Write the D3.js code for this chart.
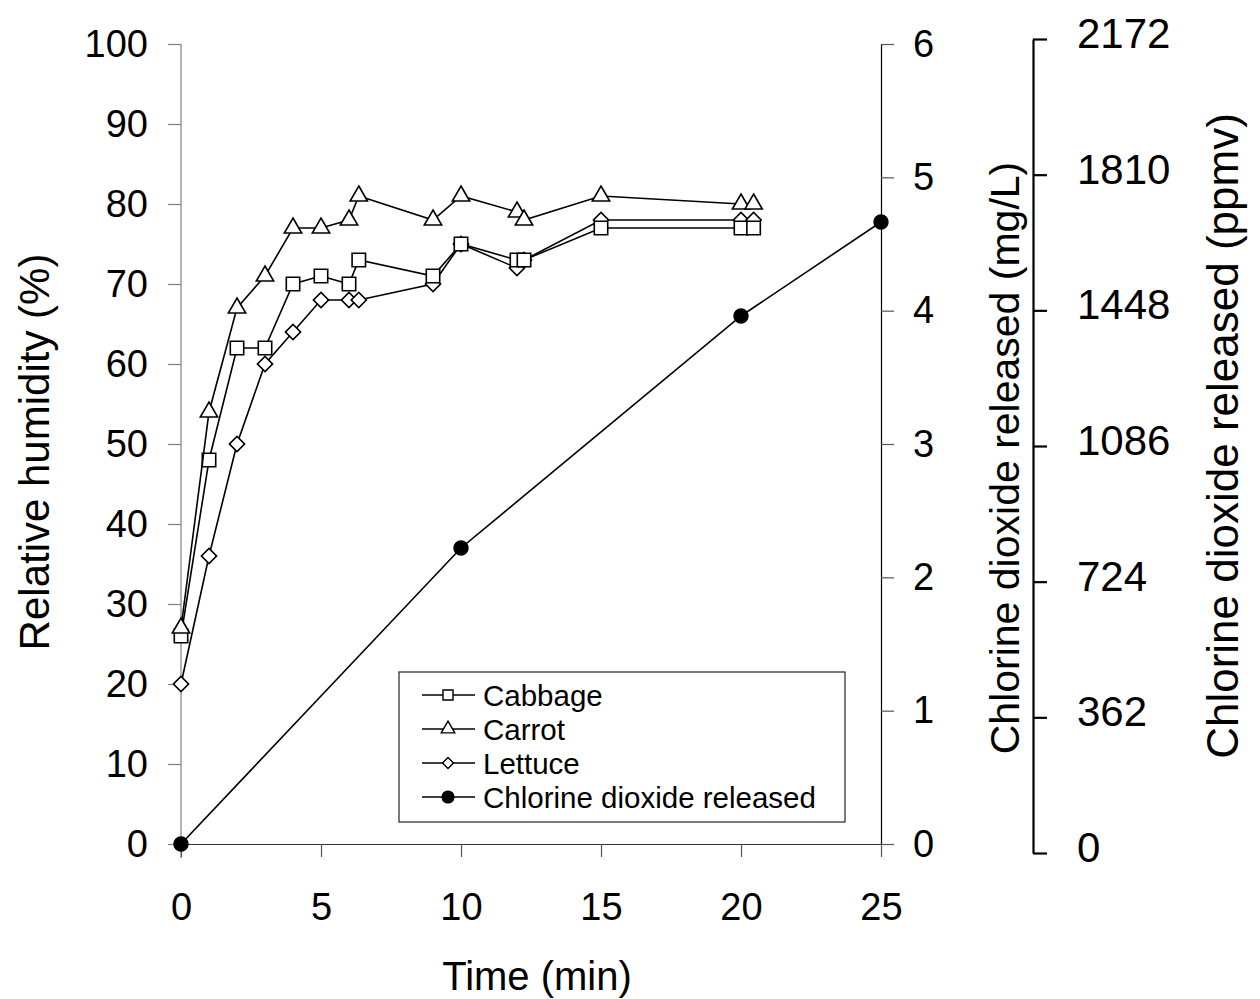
<!DOCTYPE html>
<html>
<head>
<meta charset="utf-8">
<script src="https://cdn.jsdelivr.net/npm/d3@7"></script>
<style>
  body { margin: 0; background: #fff; }
  svg { display: block; font-family: Arial, "Liberation Sans", sans-serif; }
</style>
</head>
<body>
<svg id="chart" width="1260" height="999"></svg>
<script>
// ---- Data ----
const timeMin = [0, 1, 2, 3, 4, 5, 6, 6.35, 9, 10, 12, 12.25, 15, 20, 20.45];
const cabbageRH = [26, 48, 62, 62, 70, 71, 70, 73, 71, 75, 73, 73, 77, 77, 77];
const carrotRH  = [27, 54, 67, 71, 77, 77, 78, 81, 78, 81, 79, 78, 81, 80, 80];
const lettuceRH = [20, 36, 50, 60, 64, 68, 68, 68, 70, 75, 72, 73, 78, 78, 78];
const clo2Time = [0, 10, 20, 25];
const clo2MgL  = [0, 2.22, 3.96, 4.665];

const xTicks = [0, 5, 10, 15, 20, 25];
const rhTicks = [0, 10, 20, 30, 40, 50, 60, 70, 80, 90, 100];
const mgTicks = [0, 1, 2, 3, 4, 5, 6];
const ppmTicks = [0, 362, 724, 1086, 1448, 1810, 2172];

const seriesNames = ["Cabbage", "Carrot", "Lettuce", "Chlorine dioxide released"];

// ---- Layout ----
const svg = d3.select("#chart");
const x = d3.scaleLinear().domain([0, 25]).range([181, 881]);
const yRH = d3.scaleLinear().domain([0, 100]).range([844, 44]);
const yMg = d3.scaleLinear().domain([0, 6]).range([844, 44]);
const yPpm = d3.scaleLinear().domain([0, 2172]).range([853, 39]);

const FONT = 38;
const FF = "Arial, 'Liberation Sans', sans-serif";
const fmt = d => String(d);

// Left axis (RH)
const gL = svg.append("g").attr("transform", "translate(181,0)")
  .call(d3.axisLeft(yRH).tickValues(rhTicks).tickFormat(fmt).tickSize(13).tickPadding(20).tickSizeOuter(0));
gL.select(".domain").attr("stroke", "#808080").attr("stroke-width", 1.2).attr("d", "M0,44V858");
gL.selectAll(".tick line").attr("stroke", "#808080").attr("stroke-width", 1.2);
gL.selectAll(".tick text").attr("font-size", FONT).attr("fill", "#000").attr("font-family", FF);

// Bottom axis (time)
const gB = svg.append("g").attr("transform", "translate(0,844)")
  .call(d3.axisBottom(x).tickValues(xTicks).tickFormat(fmt).tickSize(13).tickPadding(36).tickSizeOuter(0));
gB.select(".domain").attr("stroke", "#333").attr("stroke-width", 1.2);
gB.selectAll(".tick line").attr("stroke", "#555").attr("stroke-width", 1.2);
gB.selectAll(".tick text").attr("font-size", FONT).attr("fill", "#000").attr("font-family", FF);

// Right axis (mg/L)
const gR = svg.append("g").attr("transform", "translate(881,0)")
  .call(d3.axisRight(yMg).tickValues(mgTicks).tickFormat(fmt).tickSize(13).tickPadding(19).tickSizeOuter(0));
gR.select(".domain").attr("stroke", "#000").attr("stroke-width", 1.2);
gR.selectAll(".tick line").attr("stroke", "#555").attr("stroke-width", 1.2);
gR.selectAll(".tick text").attr("font-size", FONT).attr("fill", "#000").attr("font-family", FF);

// Third axis (ppmv)
const gP = svg.append("g").attr("transform", "translate(1033,0)")
  .call(d3.axisRight(yPpm).tickValues(ppmTicks).tickFormat(fmt).tickSize(14).tickPadding(30).tickSizeOuter(0));
gP.select(".domain").attr("stroke", "#000").attr("stroke-width", 2.2);
gP.selectAll(".tick line").attr("stroke", "#000").attr("stroke-width", 2.2);
gP.selectAll(".tick text").attr("font-size", 42).attr("fill", "#000").attr("dy", "0.2em")
  .attr("font-family", FF);

// Axis titles
svg.append("text").attr("transform", "translate(49,452) rotate(-90)")
  .attr("text-anchor", "middle").attr("font-size", 42).text("Relative humidity (%)");
svg.append("text").attr("x", 537).attr("y", 990)
  .attr("text-anchor", "middle").attr("font-size", 40).text("Time (min)");
svg.append("text").attr("transform", "translate(1019,458) rotate(-90)")
  .attr("text-anchor", "middle").attr("font-size", 41).text("Chlorine dioxide released (mg/L)");
svg.append("text").attr("transform", "translate(1238,436) rotate(-90)")
  .attr("text-anchor", "middle").attr("font-size", 44).text("Chlorine dioxide released (ppmv)");

// ---- Marks ----
const sq = d3.symbol().type(d3.symbolSquare).size(180);
const tri = d3.symbol().type(d3.symbolTriangle).size(130);
const dia = d3.symbol().type(d3.symbolSquare).size(115);   // rotated 45° below
const circ = d3.symbol().type(d3.symbolCircle).size(150);

function series(times, vals, yScale, sym, fill, rot) {
  const pts = times.map((t, i) => [x(t), yScale(vals[i])]);
  svg.append("path").attr("d", d3.line()(pts)).attr("fill", "none")
    .attr("stroke", "#000").attr("stroke-width", 1.6);
  svg.append("g").selectAll("path").data(pts).join("path")
    .attr("transform", d => `translate(${d[0]},${d[1]}) rotate(${rot || 0})`)
    .attr("d", sym).attr("fill", fill).attr("stroke", "#000").attr("stroke-width", 1.6);
}

series(timeMin, lettuceRH, yRH, dia, "#fff", 45);
series(timeMin, cabbageRH, yRH, sq, "#fff");
series(timeMin, carrotRH, yRH, tri, "#fff");
series(clo2Time, clo2MgL, yMg, circ, "#000");

// ---- Legend ----
const leg = svg.append("g");
leg.append("rect").attr("x", 399).attr("y", 672).attr("width", 446).attr("height", 150)
  .attr("fill", "#fff").attr("stroke", "#222").attr("stroke-width", 1.2);
const legSyms = [
  d3.symbol().type(d3.symbolSquare).size(100),
  d3.symbol().type(d3.symbolTriangle).size(80),
  d3.symbol().type(d3.symbolSquare).size(60),
  d3.symbol().type(d3.symbolCircle).size(110)
];
const legRot = [0, 0, 45, 0];
const legFill = ["#fff", "#fff", "#fff", "#000"];
const legY = d3.scalePoint().domain(seriesNames).range([695, 797]);
seriesNames.forEach((name, i) => {
  const yy = legY(name);
  leg.append("line").attr("x1", 422).attr("x2", 475).attr("y1", yy).attr("y2", yy)
    .attr("stroke", "#000").attr("stroke-width", 1.6);
  leg.append("path").attr("transform", `translate(448,${yy}) rotate(${legRot[i]})`).attr("d", legSyms[i])
    .attr("fill", legFill[i]).attr("stroke", "#000").attr("stroke-width", 1.4);
  leg.append("text").attr("x", 483).attr("y", yy).attr("dy", "0.36em")
    .attr("font-size", 29.5).text(name);
});
</script>
</body>
</html>
